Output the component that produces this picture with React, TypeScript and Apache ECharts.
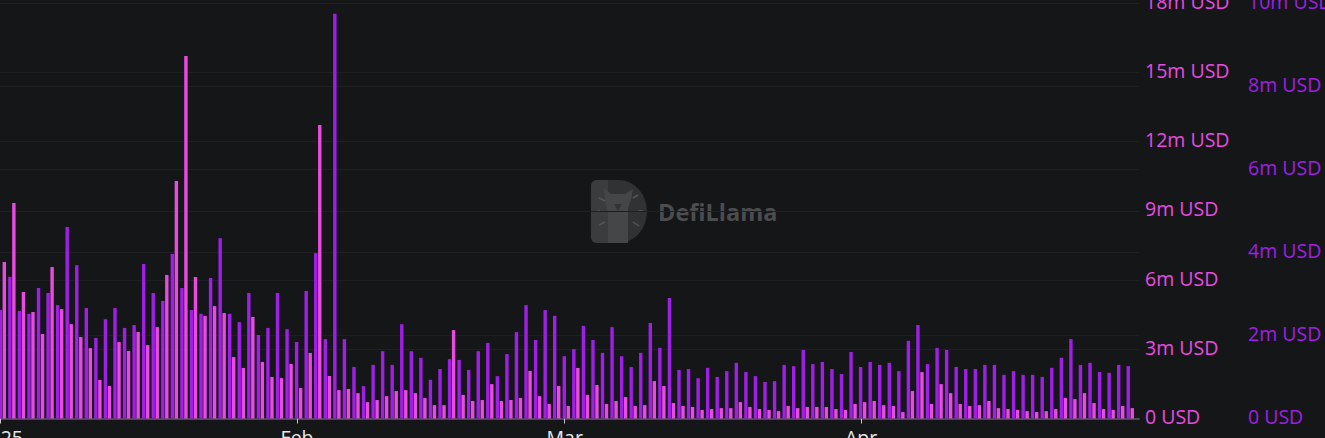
import React, { useEffect, useRef } from "react";
import * as echarts from "echarts";

const purpleValues = [
  2.61,3.41,2.59,2.52,3.14,3.02,2.73,4.61,3.69,2.66,1.94,2.39,2.66,2.18,2.25,3.72,3.02,2.83,3.96,3.14,
  2.61,2.52,3.38,4.34,2.52,2.32,3.02,2.01,2.18,3.02,2.15,1.84,3.07,3.98,1.91,9.74,1.91,1.24,0.78,1.29,
  1.62,1.29,2.27,1.62,1.46,0.93,1.19,1.43,1.41,1.17,1.62,1.82,1.02,1.55,2.08,2.73,1.89,2.61,2.47,1.50,
  1.67,2.23,1.89,1.58,2.20,1.50,1.24,1.58,2.30,1.70,2.90,1.17,1.19,0.97,1.22,1.00,1.14,1.34,1.12,1.02,
  0.88,0.90,1.29,1.26,1.65,1.31,1.36,1.19,1.07,1.60,1.24,1.36,1.29,1.34,1.14,1.87,2.25,1.31,1.70,1.65,
  1.24,1.19,1.19,1.29,1.29,1.05,1.14,1.05,1.05,1.00,1.22,1.46,1.91,1.29,1.34,1.12,1.10,1.29,1.26,
];
const magentaValues = [
  6.78,9.34,5.48,4.61,3.66,6.56,4.74,4.09,3.53,3.05,1.67,1.41,3.31,2.92,3.75,3.18,3.96,6.22,10.29,15.70,
  6.13,4.44,4.87,4.57,2.66,2.19,4.40,2.45,1.80,1.75,2.36,1.32,2.84,12.71,1.84,1.23,1.28,1.10,0.71,0.80,
  0.97,1.19,1.23,1.10,0.89,0.58,0.58,3.83,1.02,0.76,0.80,1.49,0.76,0.80,0.89,2.06,0.97,0.63,1.41,0.54,
  2.19,1.02,1.45,0.63,0.76,0.93,0.54,0.58,1.62,1.41,0.67,0.54,0.50,0.37,0.41,0.45,0.45,0.71,0.50,0.41,
  0.37,0.32,0.54,0.45,0.50,0.50,0.50,0.41,0.37,0.63,0.71,0.76,0.58,0.54,0.28,1.19,2.01,0.63,1.49,1.10,
  0.63,0.54,0.58,0.76,0.45,0.41,0.37,0.32,0.28,0.32,0.41,0.89,0.84,1.10,0.67,0.41,0.37,0.54,0.45,
];
const monthLabels = ["2025", "Feb", "Mar", "Apr"];

const DAY = 86400000;
const HOUR = 3600000;
const START = Date.UTC(2025, 0, 1);
const dayTime = (i: number) => START + i * DAY + 4 * HOUR;
const purpleData = purpleValues.map((v, i) => [dayTime(i), v * 1e6]);
const magentaData = magentaValues.map((v, i) => [dayTime(i), v * 1e6]);

const PURPLE = "#A01FE6";
const MAGENTA = "#E94BE0";
const BG = "#151618";
const GRID = "#1E1F22";
// The time axis widens its extent by about half a bar group on both sides.
const AXIS_INSET_DAYS = 0.387;
const musd = (v: number) => (v === 0 ? "0 USD" : `${v / 1e6}m USD`);

const D_PATH = "M6 0H28A28 31.5 0 0 1 28 63H6A6 6 0 0 1 0 57V6A6 6 0 0 1 6 0Z";
const D_LEFT_PATH = "M6 0H17V63H6A6 6 0 0 1 0 57V6A6 6 0 0 1 6 0Z";
const LLAMA_PATH = "M17 63V32L14 20L13 8L20 14H34L42 9L40 20L37 28V63Z";

export default function App() {
  const ref = useRef<HTMLDivElement>(null);
  useEffect(() => {
    document.body.style.margin = "0";
    document.body.style.background = BG;
    echarts.graphic.registerShape("llamaD", echarts.graphic.extendPath(D_PATH, {}) as any);
    echarts.graphic.registerShape("llamaDLeft", echarts.graphic.extendPath(D_LEFT_PATH, {}) as any);
    echarts.graphic.registerShape("llamaBody", echarts.graphic.extendPath(LLAMA_PATH, {}) as any);
    const chart = echarts.init(ref.current!, null, { renderer: "svg" });
    const font = "'Open Sans', sans-serif";
    const yLabel = { fontFamily: font, fontSize: 19.5, margin: 6, verticalAlign: "bottom", lineHeight: 4, formatter: musd };
    chart.setOption({
      animation: false,
      backgroundColor: BG,
      useUTC: true,
      grid: { left: 0, right: 186, top: 3, height: 415.5, containLabel: false, outerBoundsMode: "none" },
      xAxis: {
        type: "time",
        containShape: false,
        min: START + (AXIS_INSET_DAYS - 0.073) * DAY,
        max: START + (119.08 - AXIS_INSET_DAYS) * DAY,
        minInterval: 28 * DAY,
        splitNumber: 4,
        splitLine: { show: false },
        axisLine: { lineStyle: { color: "#4A4B4D", width: 2 } },
        axisTick: { lineStyle: { color: "#C8C8C8" }, length: 5 },
        axisLabel: {
          color: "#E8E8E8",
          fontFamily: font,
          fontSize: 19.5,
          margin: 9,
          showMinLabel: false,
          showMaxLabel: false,
          hideOverlap: false,
          formatter: (v: number) => {
            const d = new Date(v);
            return d.getUTCDate() === 1 ? monthLabels[d.getUTCMonth()] ?? "" : "";
          },
        },
      },
      yAxis: [
        {
          type: "value",
          position: "right",
          min: 0,
          max: 18e6,
          interval: 3e6,
          axisLine: { show: false },
          axisTick: { show: false },
          splitLine: { lineStyle: { color: GRID, width: 1 } },
          axisLabel: { ...yLabel, color: MAGENTA },
        },
        {
          type: "value",
          position: "right",
          offset: 103,
          min: 0,
          max: 10e6,
          interval: 2e6,
          axisLine: { show: false },
          axisTick: { show: false },
          splitLine: { lineStyle: { color: GRID, width: 1 } },
          axisLabel: { ...yLabel, color: PURPLE },
        },
      ],
      series: [
        { type: "bar", name: "Purple", yAxisIndex: 1, data: purpleData, barWidth: 3.4, barGap: "18%", itemStyle: { color: PURPLE } },
        { type: "bar", name: "Magenta", yAxisIndex: 0, data: magentaData, barWidth: 3.4, barGap: "18%", itemStyle: { color: MAGENTA } },
      ],
      graphic: [
        { type: "llamaD", x: 591, y: 180, silent: true, style: { fill: "#313234" } },
        { type: "llamaDLeft", x: 591, y: 180, silent: true, style: { fill: "#3B3C3E" } },
        { type: "llamaBody", x: 591, y: 180, silent: true, style: { fill: "#454648" } },
        { type: "polygon", silent: true, shape: { points: [[614, 204], [622, 204], [618, 211]] }, style: { fill: "#333436" } },
        { type: "line", silent: true, shape: { x1: 599, y1: 198, x2: 605, y2: 201 }, style: { stroke: "#55565A", lineWidth: 1.5 } },
        { type: "line", silent: true, shape: { x1: 597, y1: 211, x2: 600, y2: 211 }, style: { stroke: "#55565A", lineWidth: 1.5 } },
        { type: "line", silent: true, shape: { x1: 599, y1: 225, x2: 605, y2: 222 }, style: { stroke: "#55565A", lineWidth: 1.5 } },
        { type: "line", silent: true, shape: { x1: 633, y1: 198, x2: 638, y2: 195 }, style: { stroke: "#55565A", lineWidth: 1.5 } },
        { type: "line", silent: true, shape: { x1: 638, y1: 211, x2: 643, y2: 211 }, style: { stroke: "#55565A", lineWidth: 1.5 } },
        { type: "line", silent: true, shape: { x1: 633, y1: 222, x2: 639, y2: 226 }, style: { stroke: "#55565A", lineWidth: 1.5 } },
        {
          type: "text",
          x: 658,
          y: 212,
          silent: true,
          style: {
            text: "DefiLlama",
            fill: "#4C4D4F",
            fontFamily: "'Open Sans', sans-serif",
            fontWeight: 700,
            fontSize: 23.5,
            verticalAlign: "middle",
          },
        },
      ],
    });
    return () => chart.dispose();
  }, []);
  return <div ref={ref} style={{ position: "fixed", left: 0, top: 0, width: 1325, height: 438 }} />;
}
